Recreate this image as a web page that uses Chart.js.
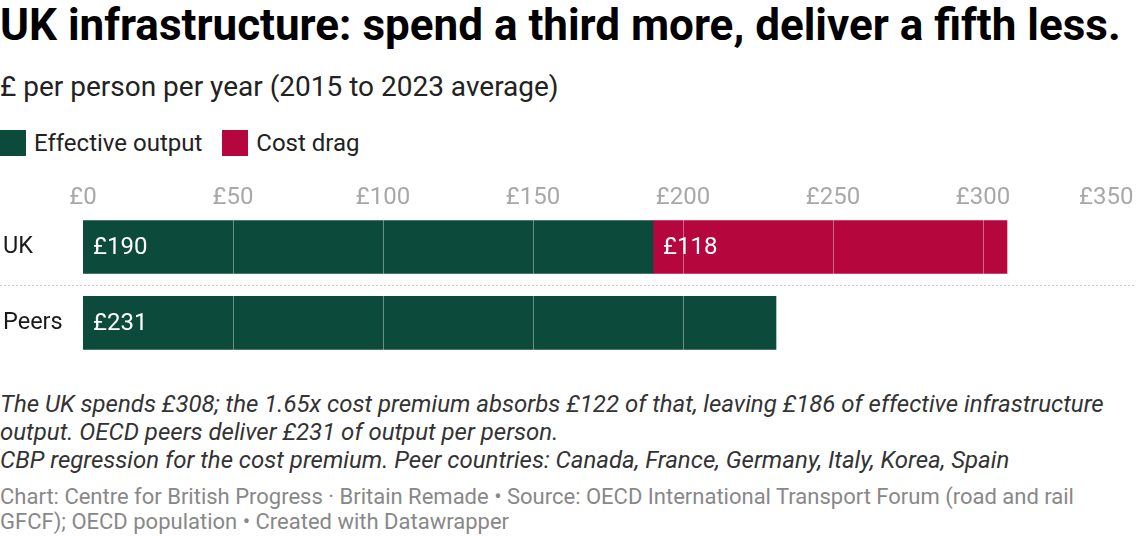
<!DOCTYPE html>
<html>
<head>
<meta charset="utf-8">
<script src="https://cdn.jsdelivr.net/npm/chart.js@4"></script>
<style>
  html, body { margin: 0; padding: 0; background: #fff; }
  body { width: 1136px; height: 536px; position: relative; overflow: hidden; font-family: Roboto, "Noto Sans", sans-serif; color: #1a1a1a; }
  #titulo { position: absolute; left: 0; top: 0; font-size: 44px; font-weight: 700; letter-spacing: 0; line-height: 50px; white-space: nowrap; color: #000; }
  #subtitulo { position: absolute; left: 0; top: 70px; font-size: 28px; line-height: 34px; color: #222; white-space: nowrap; }
  #legenda { position: absolute; left: 0; top: 129px; display: flex; align-items: center; font-size: 24px; color: #222; }
  .item { display: flex; align-items: center; margin-right: 20px; }
  .caixa { width: 26px; height: 26px; margin-right: 8px; }
  #area { position: absolute; left: 0; top: 170px; width: 1136px; height: 205px; }
  #notas { position: absolute; left: 0; top: 390px; font-size: 24px; font-style: italic; line-height: 28px; color: #333; white-space: nowrap; }
  #rodape { position: absolute; left: 0; top: 484px; font-size: 22px; line-height: 25px; color: #888; white-space: nowrap; }
</style>
</head>
<body>
<div id="titulo">UK infrastructure: spend a third more, deliver a fifth less.</div>
<div id="subtitulo">£ per person per year (2015 to 2023 average)</div>
<div id="legenda"></div>
<div id="area"><canvas id="grafico" width="1136" height="205"></canvas></div>
<div id="notas">The UK spends £308; the 1.65x cost premium absorbs £122 of that, leaving £186 of effective infrastructure<br>output. OECD peers deliver £231 of output per person.<br>CBP regression for the cost premium. Peer countries: Canada, France, Germany, Italy, Korea, Spain</div>
<div id="rodape">Chart: Centre for British Progress · Britain Remade • Source: OECD International Transport Forum (road and rail<br>GFCF); OECD population • Created with Datawrapper</div>

<script>
// dados
const categorias = ["UK", "Peers"]
const serieNomes = ["Effective output", "Cost drag"]
const serieCores = ["#0c4a3b", "#b5063e"]
const efetivo = [190, 231]
const custoExtra = [118, null]
const eixoMin = 0
const eixoMax = 350
const eixoPasso = 50

// legenda em html
const legenda = document.getElementById("legenda")
serieNomes.forEach((nome, i) => {
  const item = document.createElement("div")
  item.className = "item"
  item.innerHTML = `<span class="caixa" style="background:${serieCores[i]}"></span><span>${nome}</span>`
  legenda.appendChild(item)
})

// grade por cima das barras, linha pontilhada e rótulos
const pluginExtras = {
  id: "extras",
  afterDatasetsDraw(chart) {
    const { ctx, chartArea, scales } = chart
    const x = scales.x
    const y = scales.y
    ctx.save()

    ctx.strokeStyle = "rgba(255,255,255,0.38)"
    ctx.lineWidth = 1
    x.ticks.forEach((t) => {
      if (t.value === eixoMin) return
      const px = Math.round(x.getPixelForValue(t.value)) + 0.5
      ctx.beginPath()
      ctx.moveTo(px, chartArea.top)
      ctx.lineTo(px, chartArea.bottom)
      ctx.stroke()
    })

    const meio = Math.round((y.getPixelForTick(0) + y.getPixelForTick(1)) / 2) + 0.5
    ctx.strokeStyle = "#cfcfcf"
    ctx.setLineDash([2, 2])
    ctx.beginPath()
    ctx.moveTo(0, meio)
    ctx.lineTo(chart.width, meio)
    ctx.stroke()
    ctx.setLineDash([])

    ctx.fillStyle = "#ffffff"
    ctx.font = "24px Roboto"
    ctx.textBaseline = "middle"
    ctx.textAlign = "left"
    chart.data.datasets.forEach((ds, di) => {
      const meta = chart.getDatasetMeta(di)
      meta.data.forEach((barra, i) => {
        const v = ds.data[i]
        if (v == null) return
        ctx.fillText("£" + v, barra.base + 10, barra.y + 1)
      })
    })
    ctx.restore()
  },
}

new Chart(document.getElementById("grafico").getContext("2d"), {
  type: "bar",
  data: {
    labels: categorias,
    datasets: [
      { label: serieNomes[0], data: efetivo, backgroundColor: serieCores[0], barThickness: 53 },
      { label: serieNomes[1], data: custoExtra, backgroundColor: serieCores[1], barThickness: 53 },
    ],
  },
  options: {
    indexAxis: "y",
    responsive: false,
    animation: false,
    layout: { padding: { left: 3, right: 3, top: 0, bottom: 8 } },
    scales: {
      x: {
        position: "top",
        stacked: true,
        min: eixoMin,
        max: eixoMax,
        grid: { display: false, drawTicks: false, tickLength: 0 },
        border: { display: false },
        ticks: {
          stepSize: eixoPasso,
          color: "#a8a8a8",
          font: { family: "Roboto", size: 24 },
          padding: -3,
          maxRotation: 0,
          // último rótulo fica dentro da área, como no original
          callback: (v) => (v === eixoMax ? "£" + v + "\u00a0".repeat(9) : "£" + v),
        },
        afterFit(scale) {
          scale.height = 39
          scale.paddingLeft = 0
          scale.paddingRight = 0
        },
      },
      y: {
        stacked: true,
        grid: { display: false },
        border: { display: false },
        ticks: {
          color: "#1a1a1a",
          font: { family: "Roboto", size: 23.5 },
          crossAlign: "far",
          padding: 0,
        },
        afterFit(scale) {
          scale.width = 80
        },
      },
    },
    plugins: {
      legend: { display: false },
      tooltip: { enabled: false },
    },
  },
  plugins: [pluginExtras],
})
</script>
</body>
</html>
